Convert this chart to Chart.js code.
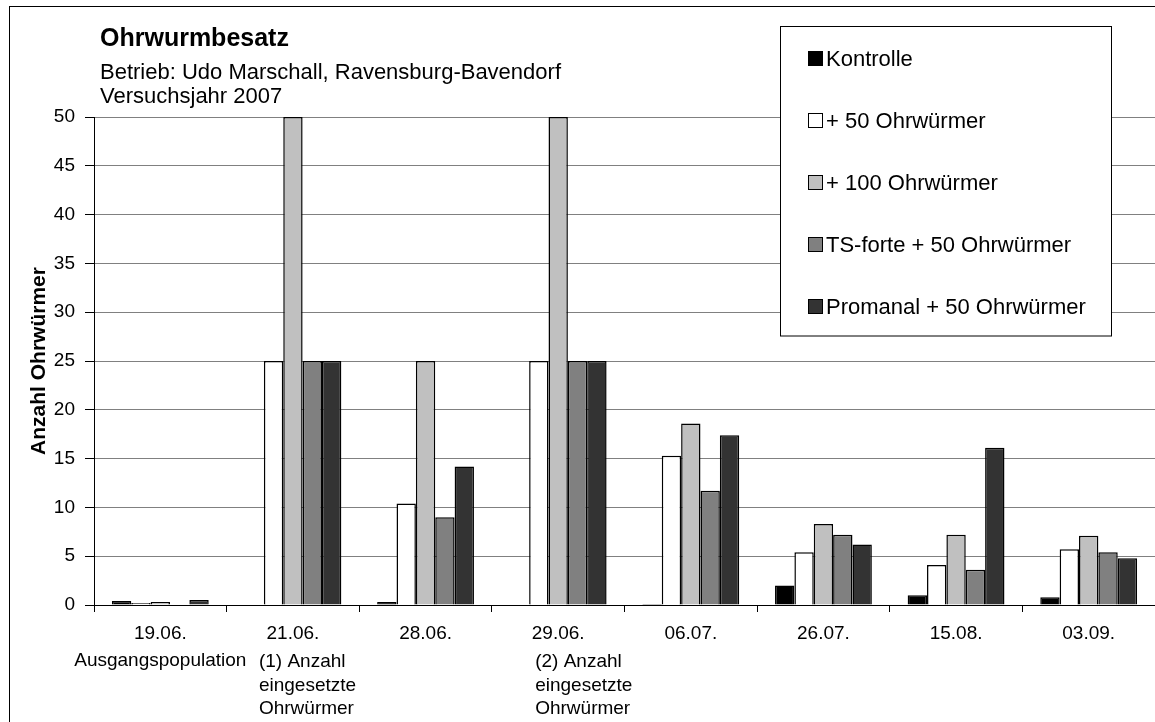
<!DOCTYPE html>
<html lang="de">
<head>
<meta charset="utf-8">
<title>Ohrwurmbesatz</title>
<script src="https://cdn.jsdelivr.net/npm/chart.js@4.4.0/dist/chart.umd.min.js"></script>
<style>
  html, body { margin: 0; padding: 0; background: #fff; overflow: hidden; }
  #wrap { width: 1155px; height: 722px; }
</style>
</head>
<body>
<div id="wrap"><canvas id="ohrwurmChart" width="1155" height="722"></canvas></div>
<script>
// Sampling dates and the notes printed under some of them
const dates = ['19.06.', '21.06.', '28.06.', '29.06.', '06.07.', '26.07.', '15.08.', '03.09.'];
const dateNotes = [
    'Ausgangspopulation',
    ['(1) Anzahl', 'eingesetzte', 'Ohrwürmer'],
    '',
    ['(2) Anzahl', 'eingesetzte', 'Ohrwürmer'],
    '', '', '', ''
];

// Earwigs counted per variant
const seriesNames = ['Kontrolle', '+ 50 Ohrwürmer', '+ 100 Ohrwürmer', 'TS-forte + 50 Ohrwürmer', 'Promanal + 50 Ohrwürmer'];
const kontrolle = [0.4, 0, 0.3, 0, 0.1, 2.0, 1.0, 0.8];
const plus50 = [0.2, 25, 10.4, 25, 15.3, 5.4, 4.1, 5.7];
const plus100 = [0.3, 50, 25, 50, 18.6, 8.3, 7.2, 7.1];
const tsForte = [0, 25, 9.0, 25, 11.7, 7.2, 3.6, 5.4];
const promanal = [0.5, 25, 14.2, 25, 17.4, 6.2, 16.1, 4.8];

const seriesColors = ['#000000', '#ffffff', '#c0c0c0', '#808080', '#333333'];
const FONT = '"Liberation Sans", Arial, sans-serif';

// x shift of the left-aligned note blocks relative to the category centre
const noteShift = { 1: -34, 3: -23 };

const frameAndText = {
    id: 'frameAndText',
    beforeDraw(chart) {
        const ctx = chart.ctx;
        ctx.save();
        ctx.fillStyle = '#fff';
        ctx.fillRect(0, 0, chart.width, chart.height);
        ctx.restore();
    },
    afterDraw(chart) {
        const ctx = chart.ctx;
        const xScale = chart.scales.x;
        ctx.save();

        // outer frame (runs off the right and bottom edge)
        ctx.strokeStyle = '#000';
        ctx.lineWidth = 1;
        ctx.strokeRect(9.5, 6.5, chart.width + 20, chart.height + 20);

        // heading block
        ctx.fillStyle = '#000';
        ctx.textAlign = 'left';
        ctx.textBaseline = 'alphabetic';
        ctx.font = 'bold 25px ' + FONT;
        ctx.fillText('Ohrwurmbesatz', 100, 46);
        ctx.font = '22px ' + FONT;
        ctx.fillText('Betrieb: Udo Marschall, Ravensburg-Bavendorf', 100, 79);
        ctx.fillText('Versuchsjahr 2007', 100, 103);

        // category labels
        ctx.font = '19px ' + FONT;
        dates.forEach((d, i) => {
            const cx = xScale.getPixelForValue(i);
            ctx.textAlign = 'center';
            ctx.fillText(d, cx, 639);
            const note = dateNotes[i];
            if (Array.isArray(note)) {
                ctx.textAlign = 'left';
                note.forEach((line, k) => ctx.fillText(line, cx + noteShift[i], 667 + k * 23.5));
            } else if (note) {
                ctx.fillText(note, cx, 666);
            }
        });

        // legend box
        const lx = 780.5, ly = 26.5, lw = 331, lh = 309.5;
        ctx.fillStyle = '#fff';
        ctx.fillRect(lx, ly, lw, lh);
        ctx.strokeStyle = '#000';
        ctx.strokeRect(lx, ly, lw, lh);
        ctx.font = '22px ' + FONT;
        chart.data.datasets.forEach((ds, i) => {
            const base = 66 + i * 62;
            ctx.fillStyle = ds.backgroundColor;
            ctx.fillRect(808, base - 15, 15, 15);
            ctx.strokeStyle = '#000';
            ctx.lineWidth = 1;
            ctx.strokeRect(808.5, base - 14.5, 14, 14);
            ctx.fillStyle = '#000';
            ctx.textAlign = 'left';
            ctx.fillText(ds.label, 826, base);
        });

        ctx.restore();
    }
};

const seriesValues = [kontrolle, plus50, plus100, tsForte, promanal];

new Chart(document.getElementById('ohrwurmChart'), {
    type: 'bar',
    data: {
        labels: dates,
        datasets: seriesNames.map((name, i) => ({
            label: name,
            data: seriesValues[i],
            backgroundColor: seriesColors[i],
            borderColor: '#000',
            borderWidth: 1.5,
            categoryPercentage: 0.73,
            barPercentage: 1.0
        }))
    },
    options: {
        responsive: false,
        animation: false,
        layout: { padding: { top: 117, left: 0, right: 0, bottom: 0 } },
        plugins: {
            legend: { display: false },
            tooltip: { enabled: false },
            title: { display: false }
        },
        scales: {
            x: {
                ticks: { display: false },
                grid: {
                    drawOnChartArea: false,
                    drawTicks: true,
                    tickLength: 7,
                    tickColor: '#000',
                    offset: true
                },
                border: { color: '#000', width: 1 },
                afterFit(scale) { scale.height = 117; }
            },
            y: {
                min: 0,
                max: 50,
                ticks: {
                    stepSize: 5,
                    color: '#000',
                    padding: 10,
                    font: { family: FONT, size: 19 }
                },
                grid: {
                    color: (c) => (c.tick && c.tick.value === 0 ? '#000' : '#808080'),
                    lineWidth: 1,
                    tickColor: '#000',
                    tickLength: 9
                },
                border: { color: '#000', width: 1 },
                title: {
                    display: true,
                    text: 'Anzahl Ohrwürmer',
                    color: '#000',
                    font: { family: FONT, size: 21, weight: 'bold' },
                    padding: { top: 27, bottom: 0 }
                },
                afterFit(scale) { scale.width = 94; }
            }
        }
    },
    plugins: [frameAndText]
});
</script>
</body>
</html>
